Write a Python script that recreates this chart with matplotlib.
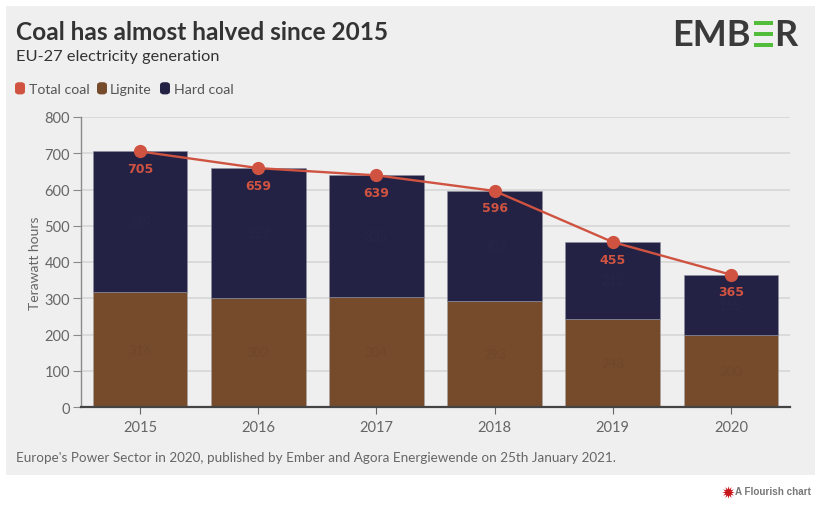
import matplotlib
matplotlib.use("Agg")
import matplotlib.pyplot as plt
from matplotlib.patches import Rectangle, FancyBboxPatch

years = ["2015", "2016", "2017", "2018", "2019", "2020"]
total_coal = [705, 659, 639, 596, 455, 365]
lignite = [316, 302, 304, 293, 243, 200]
hard_coal = [389, 357, 335, 303, 212, 165]
legend_labels = ["Total coal", "Lignite", "Hard coal"]
y_ticks = [0, 100, 200, 300, 400, 500, 600, 700, 800]

W, H = 824, 510
RED, BROWN, NAVY = "#cf5340", "#764b2c", "#232245"
plt.rcParams["font.family"] = ["Lato", "DejaVu Sans"]

def fx(x): return x / W
def fy(y): return 1 - y / H

fig = plt.figure(figsize=(W / 100, H / 100), dpi=100, facecolor="white")
fig.add_artist(Rectangle((fx(6), fy(476)), 809 / W, 469 / H, transform=fig.transFigure,
                         facecolor="#efefef", edgecolor="none", zorder=-5))

ax = fig.add_axes([fx(81), fy(408), 709 / W, 290 / H])
ax.set_facecolor("none")
x = list(range(len(years)))
ax.bar(x, lignite, width=0.8, color=BROWN, edgecolor="#a8a4a6", linewidth=0.4, zorder=2)
ax.bar(x, hard_coal, width=0.8, bottom=lignite, color=NAVY, edgecolor="#8f8fa0", linewidth=0.4, zorder=2)
ax.plot(x, total_coal, color=RED, lw=1.7, marker="o", ms=8.5, zorder=4, solid_capstyle="round", clip_on=False)

for i in x:
    ax.text(i, total_coal[i] - 47, str(total_coal[i]), color=RED, fontsize=9, fontweight="bold",
            family=["DejaVu Sans"], ha="center", va="center", zorder=5)
    ax.text(i, lignite[i] / 2, str(lignite[i]), color="#6f4729", fontsize=9.5, ha="center", va="center", zorder=3)
    ax.text(i, lignite[i] + hard_coal[i] / 2, str(hard_coal[i]), color="#272649", fontsize=9.5,
            ha="center", va="center", zorder=3)

ax.set_xlim(-0.5, 5.5)
ax.set_ylim(0, 800)
ax.set_yticks(y_ticks)
ax.set_xticks(x, years)
ax.grid(axis="y", color="#d4d4d4", lw=1.1, zorder=0)
ax.set_axisbelow(True)
for s in ("top", "right"):
    ax.spines[s].set_visible(False)
ax.spines["left"].set_color("#8a8a8a")
ax.spines["left"].set_linewidth(1)
ax.spines["bottom"].set_color("#444444")
ax.spines["bottom"].set_linewidth(1.6)
ax.tick_params(axis="y", length=6, width=0.8, color="#8a8a8a", labelcolor="#666666", labelsize=10.5, pad=2)
ax.tick_params(axis="x", length=5, width=0.8, color="#666666", labelcolor="#666666", labelsize=10.5, pad=4)
ax.set_ylabel("Terawatt hours", fontsize=10, color="#666666", labelpad=2)

fig.text(fx(16), fy(33), "Coal has almost halved since 2015", fontsize=17.6, fontweight="bold",
         color="#333333", ha="left", va="center")
fig.text(fx(16), fy(57), "EU-27 electricity generation", fontsize=11.8, color="#333333", ha="left", va="center")

# legend
lx = [15, 97, 160]
tx = [29, 110, 174]
cols = [RED, BROWN, NAVY]
for a, b, c, lab in zip(lx, tx, cols, legend_labels):
    fig.add_artist(FancyBboxPatch((fx(a + 1.4), fy(94)), 7.2 / W, 9.4 / H, transform=fig.transFigure,
                                  boxstyle="round,pad=0,rounding_size=0.003", mutation_aspect=1,
                                  facecolor=c, edgecolor=c, linewidth=2))
    fig.text(fx(b), fy(89.5), lab, fontsize=10.2, color="#555555", ha="left", va="center")

fig.text(fx(16), fy(458.5), "Europe's Power Sector in 2020, published by Ember and Agora Energiewende on 25th January 2021.",
         fontsize=9.7, color="#666666", ha="left", va="center")

# logo
fig.text(fx(672), fy(36), "EMB", fontsize=26, fontweight="bold", color="#3a3a3a", ha="left", va="center")
for yy in (22, 33, 44):
    fig.add_artist(Rectangle((fx(754), fy(yy + 4)), 19 / W, 4 / H, transform=fig.transFigure, facecolor="#52bd3a", edgecolor="none"))
fig.text(fx(774), fy(36), "R", fontsize=26, fontweight="bold", color="#3a3a3a", ha="left", va="center")

# Flourish mark
fig.text(fx(735), fy(492.5), "A Flourish chart", fontsize=7.1, fontweight="bold", family=["Liberation Sans"],
         color="#777777", ha="left", va="center")
fig.add_artist(plt.Line2D([fx(728)], [fy(493)], transform=fig.transFigure, marker=(12, 1, 0), ms=9,
                          color="#c8161d", mew=0))

fig.savefig("out.png", dpi=100, facecolor="white")
